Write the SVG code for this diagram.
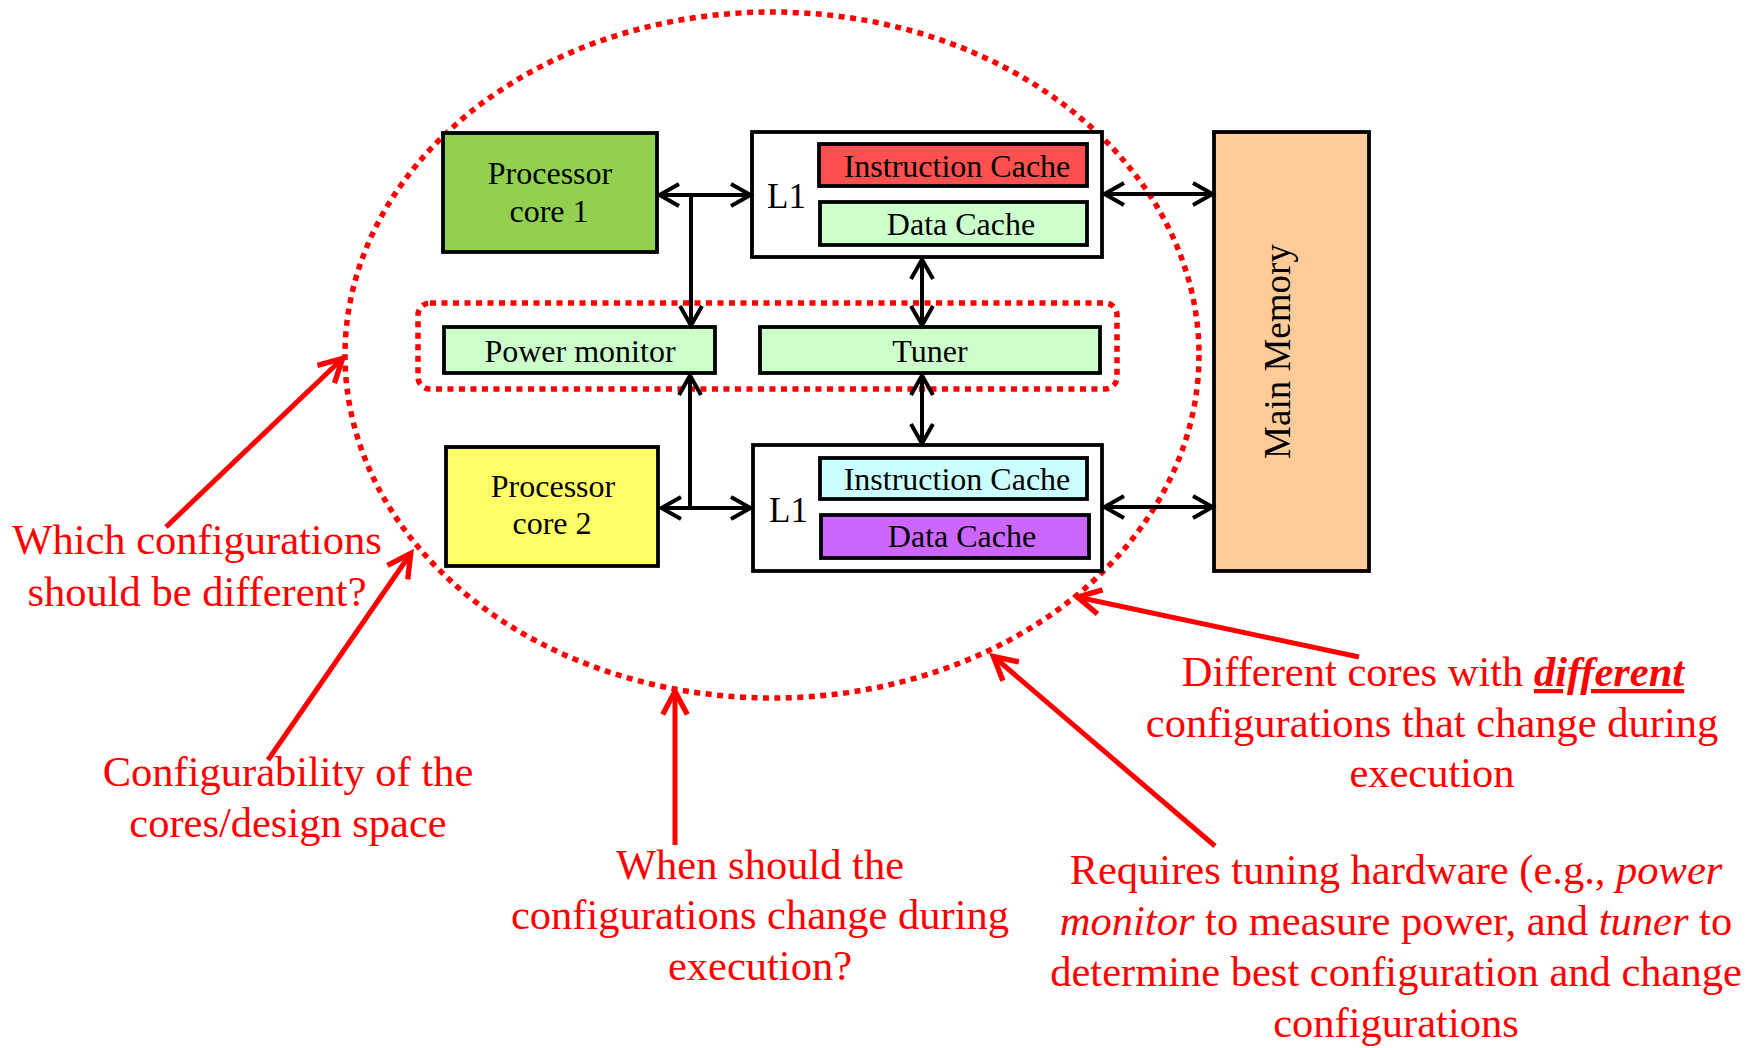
<svg xmlns="http://www.w3.org/2000/svg" width="1754" height="1048" viewBox="0 0 1754 1048">
  <style>
    .box { stroke: #000; stroke-width: 3.8; }
    .lbl { font-family: "Liberation Serif", "Times New Roman", serif; font-size: 32px; fill: #000; text-anchor: middle; }
    .l1 { font-family: "Liberation Serif", "Times New Roman", serif; font-size: 35px; fill: #000; }
    .note { font-family: "Liberation Serif", "Times New Roman", serif; font-size: 42.5px; fill: #FF0000; text-anchor: middle; }
    .link { stroke: #000; stroke-width: 4; fill: none; marker-start: url(#ah); marker-end: url(#ah); }
    .oneway { stroke: #000; stroke-width: 4; fill: none; }
    .callout { stroke: #FF0000; stroke-width: 5; fill: none; marker-end: url(#rh); }
    .dots { fill: none; stroke: #FF0000; stroke-width: 5.5; stroke-dasharray: 6 5.5; }
  </style>
  <defs>
    <marker id="ah" markerUnits="userSpaceOnUse" markerWidth="30" markerHeight="30" viewBox="-24 -15 28 30" refX="0" refY="0" orient="auto-start-reverse" overflow="visible">
      <path d="M -20 -11 L -0.5 0 L -20 11" fill="none" stroke="#000" stroke-width="4"/>
    </marker>
    <marker id="rh" markerUnits="userSpaceOnUse" markerWidth="30" markerHeight="30" viewBox="-24 -14 28 28" refX="0" refY="0" orient="auto" overflow="visible">
      <path d="M -22 -11.5 L -0.5 0 L -22 11.5" fill="none" stroke="#FF0000" stroke-width="5"/>
    </marker>
  </defs>

  <!-- configurable region boundaries -->
  <g id="design-space">
    <ellipse class="dots" cx="772" cy="355" rx="427" ry="343"/>
  </g>
  <g id="tuning-hardware">
    <rect class="dots" x="418" y="303" width="699" height="86" rx="12"/>
  </g>

  <g id="core1">
    <rect class="box" x="443" y="133" width="214" height="119" fill="#92D050"/>
    <text class="lbl" x="550" y="184">Processor</text>
    <text class="lbl" x="549" y="222">core 1</text>
  </g>

  <g id="l1-top">
    <rect class="box" x="752" y="132" width="350" height="125" fill="#FFFFFF"/>
    <text class="l1" x="767" y="208">L1</text>
    <g id="icache-top">
      <rect class="box" x="819" y="144" width="268" height="42" fill="#FF5050"/>
      <text class="lbl" x="957" y="177">Instruction Cache</text>
    </g>
    <g id="dcache-top">
      <rect class="box" x="820" y="202" width="267" height="43" fill="#CCFFCC"/>
      <text class="lbl" x="961" y="235">Data Cache</text>
    </g>
  </g>

  <g id="power-monitor">
    <rect class="box" x="444" y="327" width="271" height="46" fill="#CCFFCC"/>
    <text class="lbl" x="580" y="362">Power monitor</text>
  </g>

  <g id="tuner">
    <rect class="box" x="760" y="327" width="340" height="46" fill="#CCFFCC"/>
    <text class="lbl" x="930" y="362">Tuner</text>
  </g>

  <g id="core2">
    <rect class="box" x="446" y="447" width="212" height="119" fill="#FFFF66"/>
    <text class="lbl" x="553" y="497">Processor</text>
    <text class="lbl" x="552" y="534">core 2</text>
  </g>

  <g id="l1-bottom">
    <rect class="box" x="753" y="445" width="349" height="126" fill="#FFFFFF"/>
    <text class="l1" x="769" y="522">L1</text>
    <g id="icache-bottom">
      <rect class="box" x="820" y="458" width="267" height="41" fill="#CCFFFF"/>
      <text class="lbl" x="957" y="490">Instruction Cache</text>
    </g>
    <g id="dcache-bottom">
      <rect class="box" x="821" y="515" width="268" height="43" fill="#CC66FF"/>
      <text class="lbl" x="962" y="547">Data Cache</text>
    </g>
  </g>

  <g id="main-memory">
    <rect class="box" x="1214" y="132" width="155" height="439" fill="#FFCC99"/>
    <text class="lbl" style="font-size:37px" transform="translate(1290 351.5) rotate(-90)" x="0" y="0">Main Memory</text>
  </g>

  <!-- data paths between blocks -->
  <g id="connectors">
    <line class="link" x1="659" y1="195" x2="751" y2="195"/>
    <path class="oneway" d="M 691 195 L 691 326" marker-end="url(#ah)"/>
    <line class="link" x1="922" y1="259" x2="922" y2="326"/>
    <path class="oneway" d="M 690 508 L 690 375" marker-end="url(#ah)"/>
    <line class="link" x1="661" y1="508" x2="751" y2="508"/>
    <line class="link" x1="922" y1="375" x2="922" y2="444"/>
    <line class="link" x1="1104" y1="194" x2="1213" y2="194"/>
    <line class="link" x1="1104" y1="507" x2="1213" y2="507"/>
  </g>

  <!-- annotation callouts -->
  <g id="callouts">
    <line class="callout" x1="166" y1="527" x2="343" y2="358"/>
    <line class="callout" x1="268" y1="760" x2="411" y2="553"/>
    <line class="callout" x1="675" y1="845" x2="675" y2="691"/>
    <line class="callout" x1="1215" y1="846" x2="993" y2="656"/>
    <line class="callout" x1="1359" y1="657" x2="1077" y2="597"/>
  </g>

  <g id="note-which">
    <text class="note" x="197" y="554">Which configurations</text>
    <text class="note" x="197" y="606">should be different?</text>
  </g>
  <g id="note-configurability">
    <text class="note" x="288" y="786">Configurability of the</text>
    <text class="note" x="288" y="837">cores/design space</text>
  </g>
  <g id="note-when">
    <text class="note" x="760" y="879">When should the</text>
    <text class="note" x="760" y="929">configurations change during</text>
    <text class="note" x="760" y="980">execution?</text>
  </g>
  <g id="note-different">
    <text class="note" x="1433" y="686">Different cores with <tspan font-weight="bold" font-style="italic" text-decoration="underline">different</tspan></text>
    <text class="note" x="1432" y="737">configurations that change during</text>
    <text class="note" x="1432" y="787">execution</text>
  </g>
  <g id="note-requires">
    <text class="note" x="1396" y="884">Requires tuning hardware (e.g., <tspan font-style="italic">power</tspan></text>
    <text class="note" x="1396" y="935"><tspan font-style="italic">monitor</tspan> to measure power, and <tspan font-style="italic">tuner</tspan> to</text>
    <text class="note" x="1396" y="986">determine best configuration and change</text>
    <text class="note" x="1396" y="1037">configurations</text>
  </g>
</svg>
